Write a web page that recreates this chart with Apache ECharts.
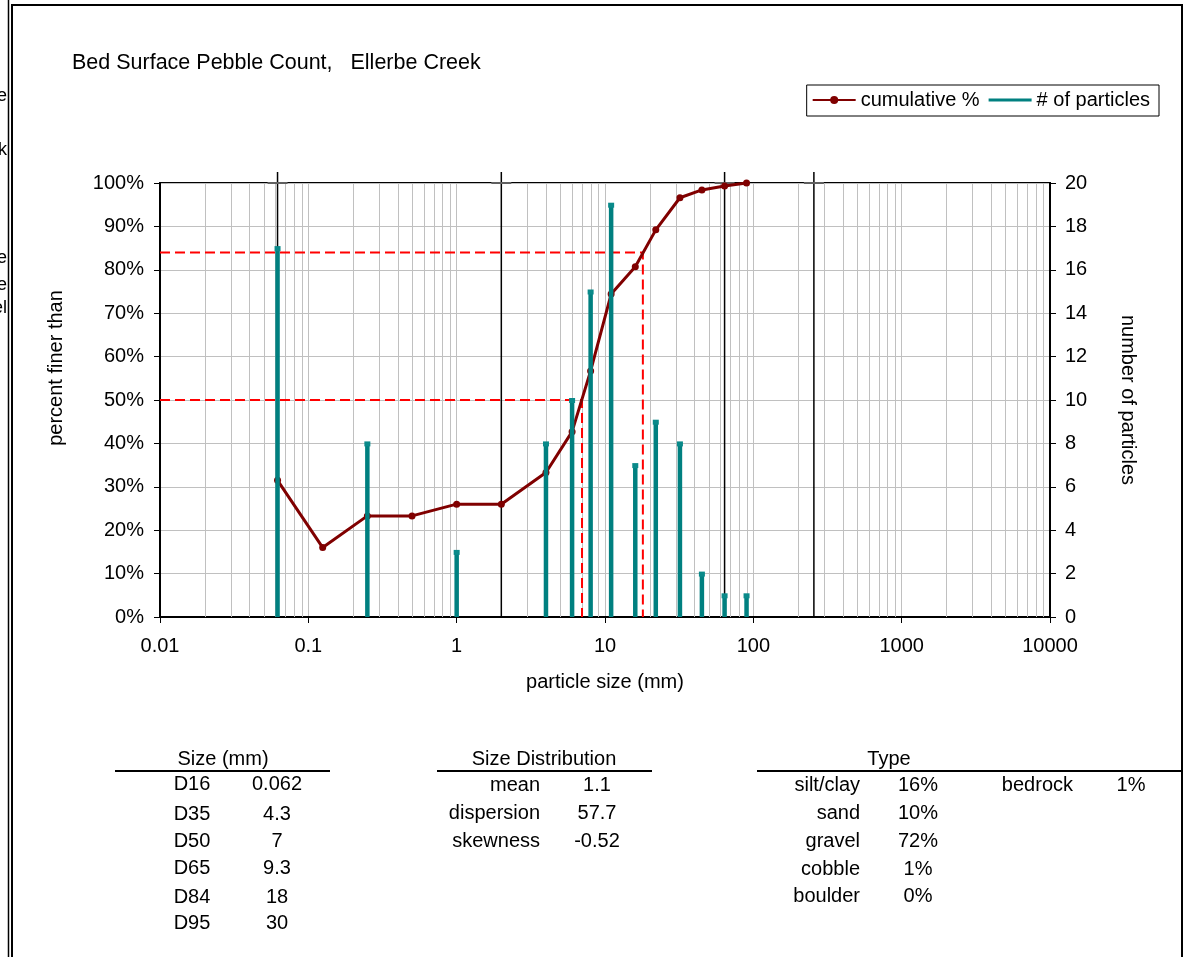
<!DOCTYPE html>
<html><head><meta charset="utf-8">
<script src="https://cdn.jsdelivr.net/npm/echarts@6/dist/echarts.min.js"></script>
<style>html,body{margin:0;padding:0;background:#fff}#c{width:1186px;height:957px}</style>
</head><body><div id="c"></div>
<script>
// ---- data ----
const sizeMm = [0.062, 0.125, 0.25, 0.5, 1, 2, 4, 6, 8, 11, 16, 22, 32, 45, 64, 90];
const cumulativePct = [31.5, 16, 23.3, 23.3, 26, 26, 33.3, 42.7, 56.7, 74.4, 80.7, 89.2, 96.6, 98.4, 99.3, 100];
const particleSizes = [0.062, 0.25, 1, 4, 6, 8, 11, 16, 22, 32, 45, 64, 90];
const particleCounts = [17, 8, 3, 8, 10, 15, 19, 7, 9, 8, 2, 1, 1];
const classBoundaries = [0.062, 2, 64, 256];
const d50 = 7, d84 = 18;
const sizeRows = [['D16', '0.062'], ['D35', '4.3'], ['D50', '7'], ['D65', '9.3'], ['D84', '18'], ['D95', '30']];
const distRows = [['mean', '1.1'], ['dispersion', '57.7'], ['skewness', '-0.52']];
const typeRows = [['silt/clay', '16%'], ['sand', '10%'], ['gravel', '72%'], ['cobble', '1%'], ['boulder', '0%']];
const typeExtra = [['bedrock', '1%']];
const clippedLeft = ['e', 'k', 'e', 'e', 'el'];

// ---- derived helpers ----
const minorX = [];
for (let k = -2; k <= 3; k++) for (let m = 2; m <= 9; m++) minorX.push(+(m * Math.pow(10, k)).toPrecision(6));

const FONT = 'Liberation Sans, Arial, sans-serif';
const chart = echarts.init(document.getElementById('c'), null, {renderer: 'canvas'});

function txt(text, x, y, align, size) {
  return {type: 'text', silent: true, z: 10,
    style: {text: text, x: x, y: y, align: align, textAlign: align, verticalAlign: 'middle', textVerticalAlign: 'middle',
      fontSize: size || 20, fontFamily: FONT, fill: '#000'}};
}
function ln(x1, y1, x2, y2, w) {
  return {type: 'line', silent: true, z: 10, shape: {x1: x1, y1: y1, x2: x2, y2: y2}, style: {stroke: '#000', lineWidth: w || 2}};
}

const graphics = [];
// frame
graphics.push(ln(8.5, 0, 8.5, 957, 1.5));
graphics.push(ln(12, 5, 12, 957, 2));
graphics.push(ln(11, 5, 1183, 5, 2));
graphics.push(ln(1182, 4, 1182, 957, 2));
// clipped neighbouring text
const clipY = [96, 150, 258, 285, 308];
clippedLeft.forEach((t, i) => graphics.push(txt(t, 7, clipY[i], 'right', 18)));
// Size table
graphics.push(txt('Size (mm)', 223, 759, 'center'));
graphics.push(ln(115, 771, 330, 771, 2));
const sizeY = [784, 814, 841, 868, 897, 923];
sizeRows.forEach((r, i) => { graphics.push(txt(r[0], 192, sizeY[i], 'center')); graphics.push(txt(r[1], 277, sizeY[i], 'center')); });
// Size distribution table
graphics.push(txt('Size Distribution', 544, 759, 'center'));
graphics.push(ln(437, 771, 652, 771, 2));
const distY = [785, 813, 841];
distRows.forEach((r, i) => { graphics.push(txt(r[0], 540, distY[i], 'right')); graphics.push(txt(r[1], 597, distY[i], 'center')); });
// Type table
graphics.push(txt('Type', 889, 759, 'center'));
graphics.push(ln(757, 771, 1183, 771, 2));
const typeY = [785, 813, 841, 869, 896];
typeRows.forEach((r, i) => { graphics.push(txt(r[0], 860, typeY[i], 'right')); graphics.push(txt(r[1], 918, typeY[i], 'center')); });
typeExtra.forEach((r, i) => { graphics.push(txt(r[0], 1073, typeY[i], 'right')); graphics.push(txt(r[1], 1131, typeY[i], 'center')); });

const axisFont = {fontSize: 20, fontFamily: FONT, color: '#000'};

const option = {
  animation: false,
  backgroundColor: '#fff',
  title: {text: 'Bed Surface Pebble Count,   Ellerbe Creek', left: 67, top: 47,
    textStyle: {fontSize: 21.5, fontWeight: 'normal', fontFamily: FONT, color: '#000'}},
  legend: {
    data: ['cumulative %', {name: '# of particles', icon: 'path://M0 0H43V3H0Z'}],
    right: 27, top: 85, orient: 'horizontal',
    borderColor: '#000', borderWidth: 1, padding: [5, 9, 6, 5], itemGap: 9,
    itemWidth: 43, itemHeight: 10,
    textStyle: {fontSize: 20, fontFamily: FONT, color: '#000'}
  },
  grid: {left: 160, right: 136, top: 183, bottom: 340, show: true, borderColor: '#000', borderWidth: 2, backgroundColor: 'transparent'},
  xAxis: {
    type: 'log', logBase: 10, min: 0.01, max: 10000, splitNumber: 6,
    name: 'particle size (mm)', nameLocation: 'middle', nameGap: 55, nameTextStyle: axisFont,
    axisLine: {lineStyle: {color: '#000', width: 2}},
    axisTick: {show: true, length: 6, lineStyle: {color: '#000', width: 1}},
    axisLabel: Object.assign({margin: 19, formatter: v => String(+(+v).toPrecision(6))}, axisFont),
    splitLine: {show: true, lineStyle: {color: '#c0c0c0', width: 1}},
    minorTick: {show: false}, minorSplitLine: {show: false}
  },
  yAxis: [{
    type: 'value', min: 0, max: 100, interval: 10, position: 'left',
    name: 'percent finer than', nameLocation: 'middle', nameGap: 94, nameRotate: 90,
    nameTextStyle: Object.assign({padding: [0, 0, 0, 64]}, axisFont),
    axisLine: {show: true, lineStyle: {color: '#000', width: 2}},
    axisTick: {show: true, length: 6, lineStyle: {color: '#000', width: 1}},
    axisLabel: Object.assign({margin: 16, formatter: '{value}%'}, axisFont),
    splitLine: {show: true, lineStyle: {color: '#c0c0c0', width: 1}}
  }, {
    type: 'value', min: 0, max: 20, interval: 2, position: 'right',
    name: 'number of particles', nameLocation: 'middle', nameGap: 68, nameRotate: -90,
    nameTextStyle: axisFont,
    axisLine: {show: true, lineStyle: {color: '#000', width: 2}},
    axisTick: {show: true, length: 6, lineStyle: {color: '#000', width: 1}},
    axisLabel: Object.assign({margin: 15}, axisFont),
    splitLine: {show: false}
  }],
  series: [
    { // minor log grid lines
      type: 'custom', silent: true, z: 1, clip: true,
      data: minorX.map(v => [v, 0]),
      renderItem: function (params, api) {
        const p0 = api.coord([api.value(0), 0]);
        const p1 = api.coord([api.value(0), 100]);
        const x = Math.round(p0[0]) + 0.5;
        return {type: 'line', shape: {x1: x, y1: p0[1], x2: x, y2: p1[1]}, style: {stroke: '#c0c0c0', lineWidth: 1}};
      }
    },
    { // size class boundaries
      type: 'custom', silent: true, z: 2, clip: false,
      data: classBoundaries.map(v => [v, 0]),
      renderItem: function (params, api) {
        const p0 = api.coord([api.value(0), 0]);
        const p1 = api.coord([api.value(0), 100]);
        return {type: 'group', children: [
          {type: 'line', shape: {x1: p0[0], y1: p0[1], x2: p0[0], y2: p1[1] - 11}, style: {stroke: '#000', lineWidth: 1.5}},
          {type: 'line', shape: {x1: p0[0] - 10, y1: p1[1], x2: p0[0] + 10, y2: p1[1]}, style: {stroke: '#606060', lineWidth: 2}}
        ]};
      }
    },
    { // D84 guide
      type: 'line', silent: true, z: 3, symbol: 'none',
      data: [[0.01, 84], [d84, 84], [d84, 0]],
      lineStyle: {color: '#ff0000', width: 2, type: [10, 5]}
    },
    { // D50 guide
      type: 'line', silent: true, z: 3, symbol: 'none',
      data: [[0.01, 50], [d50, 50], [d50, 0]],
      lineStyle: {color: '#ff0000', width: 2, type: [10, 5]}
    },
    {
      name: 'cumulative %', type: 'line', z: 4,
      data: sizeMm.map((s, i) => [s, cumulativePct[i]]),
      symbol: 'circle', symbolSize: 7,
      itemStyle: {color: '#800000'},
      lineStyle: {color: '#800000', width: 3}
    },
    {
      name: '# of particles', type: 'custom', yAxisIndex: 1, z: 5, clip: false,
      data: particleSizes.map((s, i) => [s, particleCounts[i]]),
      itemStyle: {color: '#008080'},
      renderItem: function (params, api) {
        const p0 = api.coord([api.value(0), 0]);
        const p1 = api.coord([api.value(0), api.value(1)]);
        return {type: 'group', children: [
          {type: 'line', shape: {x1: p0[0], y1: p0[1], x2: p1[0], y2: p1[1]}, style: {stroke: '#008080', lineWidth: 4.5}},
          {type: 'rect', shape: {x: p1[0] - 3, y: p1[1] - 2, width: 6, height: 5}, style: {fill: '#0a8a8a'}}
        ]};
      }
    }
  ],
  graphic: graphics
};
chart.setOption(option);
</script>
</body></html>
